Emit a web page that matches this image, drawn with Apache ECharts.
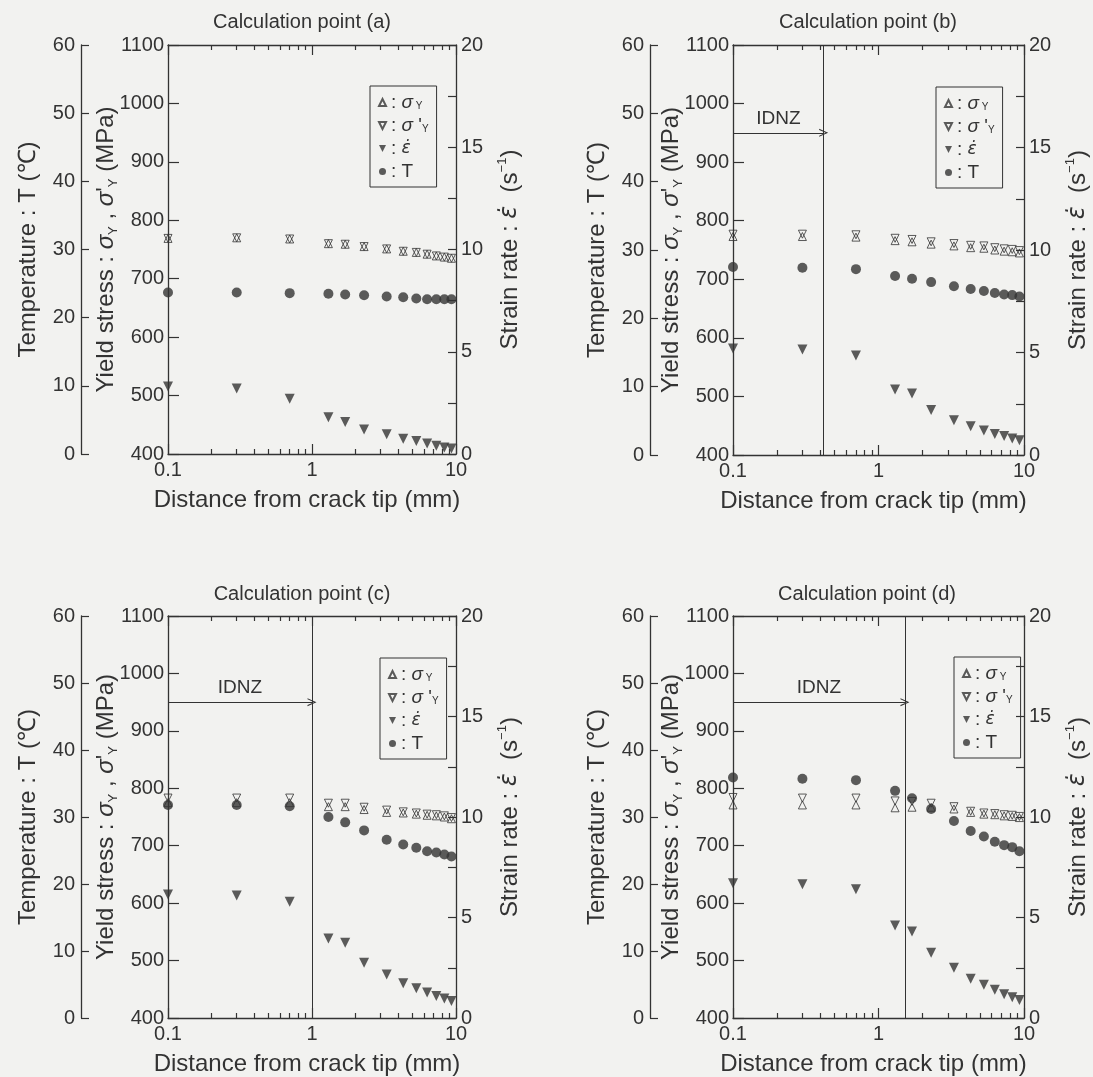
<!DOCTYPE html>
<html>
<head>
<meta charset="utf-8">
<script src="https://cdn.jsdelivr.net/npm/echarts@6/dist/echarts.min.js"></script>
<style>html,body{margin:0;padding:0;background:#f2f2f0;}#chart{width:1093px;height:1077px;}</style>
</head>
<body>
<div id="chart"></div>
<script>
// ---------------- data ----------------
const distance = [0.1, 0.3, 0.7, 1.3, 1.7, 2.3, 3.3, 4.3, 5.3, 6.3, 7.3, 8.3, 9.3];

const panelTitles = ['Calculation point (a)', 'Calculation point (b)', 'Calculation point (c)', 'Calculation point (d)'];

// yield stress sigma_Y (MPa)
const sigmaY_a = [769, 770, 768, 760, 759, 755, 751, 747, 745, 742, 739, 737, 735];
const sigmaY_b = [773, 773, 772, 766, 764, 760, 757, 754, 753, 750, 748, 747, 745];
const sigmaY_c = [775, 775, 775, 768, 768, 763, 758, 757, 755, 753, 752, 750, 747];
const sigmaY_d = [771, 771, 771, 766, 767, 767, 764, 758, 755, 754, 752, 751, 749];
// yield stress sigma'_Y (MPa)
const sigmaYp_a = [769, 770, 768, 760, 759, 755, 751, 747, 745, 742, 739, 737, 735];
const sigmaYp_b = [777, 777, 776, 770, 768, 764, 761, 758, 757, 754, 752, 751, 749];
const sigmaYp_c = [783, 783, 783, 774, 774, 767, 762, 759, 757, 755, 754, 752, 749];
const sigmaYp_d = [784, 783, 783, 778, 777, 774, 768, 760, 757, 756, 754, 753, 751];
// strain rate (1/s)
const strainRate_a = [3.3, 3.2, 2.7, 1.8, 1.57, 1.2, 0.97, 0.75, 0.63, 0.51, 0.4, 0.32, 0.27];
const strainRate_b = [5.2, 5.15, 4.85, 3.2, 3.0, 2.2, 1.7, 1.4, 1.2, 1.03, 0.93, 0.8, 0.72];
const strainRate_c = [6.15, 6.1, 5.78, 3.96, 3.74, 2.75, 2.16, 1.73, 1.48, 1.27, 1.1, 0.97, 0.85];
const strainRate_d = [6.7, 6.65, 6.4, 4.6, 4.3, 3.25, 2.5, 1.95, 1.65, 1.4, 1.18, 1.03, 0.9];
// temperature (deg C)
const temp_a = [23.7, 23.7, 23.6, 23.5, 23.4, 23.3, 23.1, 23.0, 22.8, 22.7, 22.7, 22.7, 22.7];
const temp_b = [27.5, 27.4, 27.2, 26.2, 25.8, 25.3, 24.7, 24.3, 24.0, 23.7, 23.5, 23.4, 23.2];
const temp_c = [31.8, 31.8, 31.6, 30.0, 29.2, 28.0, 26.6, 25.9, 25.4, 24.9, 24.7, 24.4, 24.1];
const temp_d = [35.9, 35.7, 35.5, 33.9, 32.8, 31.2, 29.4, 27.9, 27.1, 26.3, 25.8, 25.5, 24.9];

// IDNZ boundary (mm) and arrow level (MPa)
const idnzBoundary = [null, 0.42, 1.0, 1.52];
const idnzArrowLevel = 950;

// tick values
const xMinorTicks = [0.2, 0.3, 0.4, 0.5, 0.6, 0.7, 0.8, 0.9, 2, 3, 4, 5, 6, 7, 8, 9];

// ---------------- style / layout ----------------
const INK = '#333333';
const FONT = '"Liberation Sans", Arial, Helvetica, sans-serif';
const DOWN_TRI = 'path://M0,0L10,0L5,10Z';
const CHEVRON = 'path://M5,0L10,10L8.6,10L5,2.8L1.4,10L0,10Z';

const panels = [
  {sY: sigmaY_a, sYp: sigmaYp_a, ed: strainRate_a, T: temp_a, idnz: idnzBoundary[0]},
  {sY: sigmaY_b, sYp: sigmaYp_b, ed: strainRate_b, T: temp_b, idnz: idnzBoundary[1]},
  {sY: sigmaY_c, sYp: sigmaYp_c, ed: strainRate_c, T: temp_c, idnz: idnzBoundary[2]},
  {sY: sigmaY_d, sYp: sigmaYp_d, ed: strainRate_d, T: temp_d, idnz: idnzBoundary[3]}
];
const layout = [
  {grid: [168, 45, 288, 409], tempOffset: 87, legend: [370, 86], title: [302, 12]},
  {grid: [733, 45, 291, 410], tempOffset: 83, legend: [936, 87], title: [868, 12]},
  {grid: [168, 616, 288, 410], tempOffset: 87, legend: [380, 658], title: [302, 584]},
  {grid: [733, 616, 291, 410], tempOffset: 83, legend: [954, 657], title: [867, 584]}
];

const lineStyle = {color: INK, width: 1.3};
const tickStyle = {color: INK, width: 1.2};
const labelStyle = {color: INK, fontSize: 20, fontFamily: FONT};
const nameRich = {
  t: {fontSize: 24, fontFamily: FONT, color: INK, lineHeight: 28},
  g: {fontSize: 24, fontFamily: FONT, color: INK, fontStyle: 'italic', lineHeight: 28},
  e: {fontSize: 24, fontFamily: '"DejaVu Sans"', color: INK, fontStyle: 'italic', lineHeight: 28},
  s: {fontSize: 13, fontFamily: FONT, color: INK, lineHeight: 13, verticalAlign: 'bottom'},
  p: {fontSize: 13, fontFamily: FONT, color: INK, lineHeight: 13, verticalAlign: 'top'}
};
const nameStyle = {color: INK, fontSize: 24, fontFamily: FONT, rich: nameRich};

const legendText = {
  sY: '{n|: }{g|σ}{s| Y}',
  sYp: "{n|: }{g|σ}{n| '}{s|Y}",
  ed: '{n|: }{e|ε\u0307}',
  T: '{n|: T}'
};
const legendRich = {
  n: {fontSize: 19, fontFamily: FONT, color: INK, lineHeight: 17},
  g: {fontSize: 19, fontFamily: FONT, color: INK, fontStyle: 'italic', lineHeight: 17},
  e: {fontSize: 17, fontFamily: '"DejaVu Sans"', color: INK, fontStyle: 'italic', lineHeight: 17},
  s: {fontSize: 10, fontFamily: FONT, color: INK, lineHeight: 10, verticalAlign: 'bottom'}
};

const grids = [], xAxes = [], yAxes = [], series = [], titles = [], legends = [];

panels.forEach((p, i) => {
  const L = layout[i];
  grids.push({left: L.grid[0], top: L.grid[1], width: L.grid[2], height: L.grid[3]});
  titles.push({text: panelTitles[i], left: L.title[0], top: L.title[1], textAlign: 'center', padding: 0,
    textStyle: {color: INK, fontSize: 20, fontWeight: 'normal', fontFamily: FONT}});

  const xIdx = xAxes.length;
  const xBase = {type: 'log', logBase: 10, min: 0.1, max: 10, gridIndex: i, splitLine: {show: false}};
  xAxes.push(Object.assign({}, xBase, {
    position: 'bottom',
    axisLine: {show: true, onZero: false, lineStyle},
    axisTick: {show: true, inside: true, length: 10, lineStyle: tickStyle},
    axisLabel: Object.assign({show: true, margin: 6, formatter: v => String(+Number(v).toPrecision(3))}, labelStyle),
    name: 'Distance from crack tip (mm)', nameLocation: 'middle', nameGap: 34,
    nameTextStyle: {color: INK, fontSize: 24, fontFamily: FONT, padding: [0, 10, 0, 0]}
  }));
  xAxes.push(Object.assign({}, xBase, {
    position: 'top', axisLine: {show: true, onZero: false, lineStyle},
    axisTick: {show: true, inside: true, length: 10, lineStyle: tickStyle},
    axisLabel: {show: false}
  }));
  // minor log ticks: a helper value axis spanning the same decades in log10 units
  const minorBase = {type: 'value', min: -1, max: 1, gridIndex: i, splitLine: {show: false},
    axisLine: {show: false, onZero: false}, axisLabel: {show: false}};
  ['bottom', 'top'].forEach(pos => {
    xAxes.push(Object.assign({}, minorBase, {
      position: pos,
      axisTick: {show: true, inside: true, length: 5, lineStyle: tickStyle,
        customValues: xMinorTicks.map(v => Math.log10(v))}
    }));
  });

  const yIdx = yAxes.length;
  yAxes.push({
    type: 'value', gridIndex: i, position: 'left', min: 400, max: 1100, interval: 100,
    axisLine: {show: true, onZero: false, lineStyle},
    axisTick: {show: true, inside: true, length: 11, lineStyle: tickStyle},
    axisLabel: Object.assign({margin: 4, formatter: v => String(v)}, labelStyle), splitLine: {show: false},
    name: "{t|Yield stress : }{g|σ}{s|Y}{t| , }{g|σ}{t|'}{s|Y}{t| (MPa)}",
    nameLocation: 'middle', nameRotate: 90, nameGap: 48, nameMoveOverlap: false, nameTextStyle: nameStyle
  });
  yAxes.push({
    type: 'value', gridIndex: i, position: 'left', offset: L.tempOffset, min: 0, max: 60, interval: 10,
    axisLine: {show: true, onZero: false, lineStyle},
    axisTick: {show: true, inside: true, length: 8, lineStyle: tickStyle},
    axisLabel: Object.assign({margin: 6, formatter: v => String(v)}, labelStyle), splitLine: {show: false},
    name: '{t|Temperature : T (℃)}',
    nameLocation: 'middle', nameRotate: 90, nameGap: 39, nameTextStyle: nameStyle
  });
  yAxes.push({
    type: 'value', gridIndex: i, position: 'right', min: 0, max: 20, interval: 2.5,
    axisLine: {show: true, onZero: false, lineStyle},
    axisTick: {show: true, inside: true, length: 8, lineStyle: tickStyle},
    axisLabel: Object.assign({margin: 5, formatter: v => (v % 5 === 0 ? String(v) : '')}, labelStyle),
    splitLine: {show: false},
    name: '{t|Strain rate : }{e|ε\u0307}{t|  (s}{p|−1}{t|)}',
    nameLocation: 'middle', nameRotate: 90, nameGap: 40, nameTextStyle: nameStyle
  });

  const pts = arr => distance.map((x, k) => [x, arr[k]]);
  const sYSeries = {
    type: 'scatter', name: 'sY', xAxisIndex: xIdx, yAxisIndex: yIdx,
    symbol: 'triangle', symbolSize: 8, silent: true,
    itemStyle: {color: 'rgba(0,0,0,0)', borderColor: INK, borderWidth: 1},
    data: pts(p.sY)
  };
  if (p.idnz) {
    sYSeries.markLine = {
      silent: true, animation: false, symbol: ['none', 'none'],
      lineStyle: {color: INK, width: 1, type: 'solid'},
      label: {show: false},
      emphasis: {disabled: true},
      data: [
        {xAxis: p.idnz},
        [
          {coord: [0.1, idnzArrowLevel], symbol: 'none',
            label: {show: true, formatter: 'IDNZ', position: 'insideMiddleTop', distance: 5,
              color: INK, fontSize: 19, fontFamily: FONT}},
          {coord: [p.idnz, idnzArrowLevel], symbol: CHEVRON, symbolSize: [8, 9]}
        ]
      ]
    };
  }
  series.push(sYSeries);
  series.push({
    type: 'scatter', name: 'sYp', xAxisIndex: xIdx, yAxisIndex: yIdx,
    symbol: DOWN_TRI, symbolSize: 8, silent: true,
    itemStyle: {color: 'rgba(0,0,0,0)', borderColor: INK, borderWidth: 1},
    data: pts(p.sYp)
  });
  series.push({
    type: 'scatter', name: 'ed', xAxisIndex: xIdx, yAxisIndex: yIdx + 2,
    symbol: DOWN_TRI, symbolSize: 10, silent: true,
    itemStyle: {color: INK},
    data: pts(p.ed)
  });
  series.push({
    type: 'scatter', name: 'T', xAxisIndex: xIdx, yAxisIndex: yIdx + 1,
    symbol: 'circle', symbolSize: 10, silent: true,
    itemStyle: {color: INK},
    data: pts(p.T)
  });

  legends.push({
    left: L.legend[0], top: L.legend[1], orient: 'vertical',
    padding: [7, 8, 6, 8], itemGap: 4, itemWidth: 7, itemHeight: 7,
    borderColor: INK, borderWidth: 1, selectedMode: false,
    data: [
      {name: 'sY', icon: 'triangle'},
      {name: 'sYp', icon: DOWN_TRI},
      {name: 'ed', icon: DOWN_TRI},
      {name: 'T', icon: 'circle'}
    ],
    formatter: n => legendText[n],
    textStyle: {color: INK, fontSize: 19, fontFamily: FONT, rich: legendRich}
  });
});

const chart = echarts.init(document.getElementById('chart'));
chart.setOption({
  backgroundColor: '#f2f2f0',
  animation: false,
  title: titles,
  legend: legends,
  grid: grids,
  xAxis: xAxes,
  yAxis: yAxes,
  series: series
});
</script>
</body>
</html>
